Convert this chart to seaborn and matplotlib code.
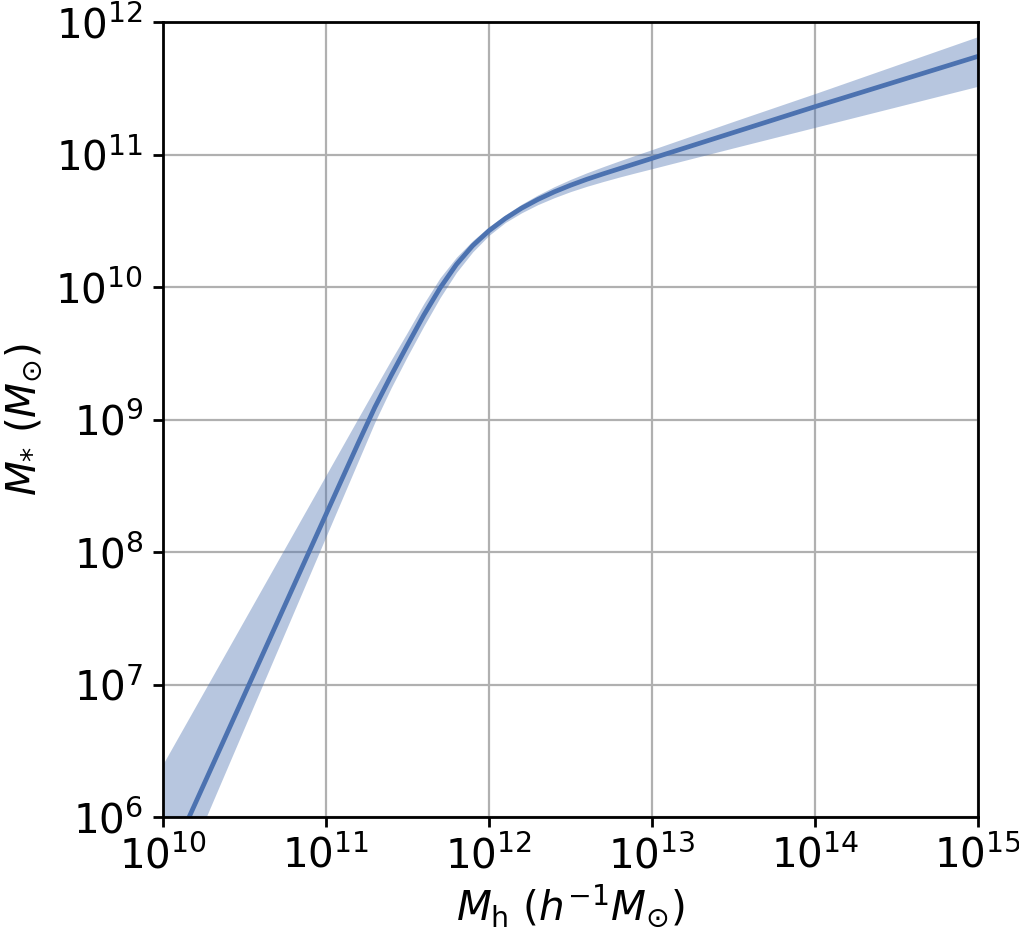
import numpy as np
import pandas as pd
import matplotlib
matplotlib.use("Agg")
import matplotlib.pyplot as plt
import seaborn as sns

# log10 halo mass (h^-1 Msun) and log10 stellar mass (Msun)
log_mh = [10.0, 10.1, 10.2, 10.3, 10.4, 10.5, 10.6, 10.7, 10.8, 10.9,
          11.0, 11.1, 11.2, 11.3, 11.4, 11.5, 11.6, 11.7, 11.8, 11.9,
          12.0, 12.1, 12.2, 12.3, 12.4, 12.5, 12.6, 12.7, 12.8, 12.9,
          13.0, 13.5, 14.0, 14.5, 15.0]
log_ms = [5.564, 5.836, 6.108, 6.38, 6.652, 6.924, 7.196, 7.468, 7.74, 8.012,
          8.284, 8.556, 8.828, 9.093, 9.333, 9.563, 9.788, 9.993, 10.17, 10.312,
          10.425, 10.517, 10.595, 10.661, 10.718, 10.768, 10.813, 10.854, 10.893, 10.932,
          10.971, 11.166, 11.361, 11.551, 11.741]
log_ms_hi = [6.40, 6.618, 6.836, 7.054, 7.272, 7.49, 7.708, 7.926, 8.144, 8.362,
             8.58, 8.798, 9.016, 9.234, 9.45, 9.66, 9.875, 10.07, 10.225, 10.35,
             10.455, 10.545, 10.625, 10.695, 10.757, 10.812, 10.862, 10.908, 10.952, 10.995,
             11.037, 11.25, 11.46, 11.675, 11.89]
log_ms_lo = [5.237, 5.525, 5.813, 6.101, 6.389, 6.677, 6.965, 7.253, 7.541, 7.829,
             8.117, 8.405, 8.693, 8.981, 9.24, 9.478, 9.705, 9.92, 10.11, 10.265,
             10.39, 10.487, 10.56, 10.622, 10.674, 10.72, 10.76, 10.796, 10.83, 10.862,
             10.893, 11.05, 11.205, 11.36, 11.515]

df = pd.DataFrame({
    "Mh": 10.0 ** np.array(log_mh),
    "Ms": 10.0 ** np.array(log_ms),
    "Ms_hi": 10.0 ** np.array(log_ms_hi),
    "Ms_lo": 10.0 ** np.array(log_ms_lo),
})

sns.set_style("ticks", {"axes.grid": True, "grid.color": "#b0b0b0",
                        "axes.edgecolor": "black", "xtick.color": "black",
                        "ytick.color": "black", "axes.labelcolor": "black",
                        "text.color": "black"})
plt.rcParams["font.family"] = ["DejaVu Sans"]
plt.rcParams["font.size"] = 14.6
plt.rcParams["axes.linewidth"] = 1.0
plt.rcParams["grid.linewidth"] = 0.8

color = sns.color_palette("deep")[0]

fig, ax = plt.subplots(figsize=(5.1, 4.665), dpi=200)
fig.subplots_adjust(left=0.1598, right=0.9588, top=0.9764, bottom=0.1243)

ax.fill_between(df["Mh"], df["Ms_lo"], df["Ms_hi"], color=color, alpha=0.4,
                linewidth=0)
sns.lineplot(data=df, x="Mh", y="Ms", color=color, linewidth=1.7, ax=ax)

ax.set_xscale("log")
ax.set_yscale("log")
ax.set_xlim(1e10, 1e15)
ax.set_ylim(1e6, 1e12)
ax.minorticks_off()
ax.tick_params(labelsize=14.6, length=3.5, width=1.0)
ax.set_xlabel(r"$M_{\rm h}$ ($h^{-1}M_{\odot}$)", fontsize=14.6, labelpad=2)
ax.set_ylabel(r"$M_{*}$ ($M_{\odot}$)", fontsize=14.6)
ax.grid(True, which="major", color="#b0b0b0", linewidth=0.8)
ax.set_axisbelow(True)

fig.savefig("out.png", dpi=200)
